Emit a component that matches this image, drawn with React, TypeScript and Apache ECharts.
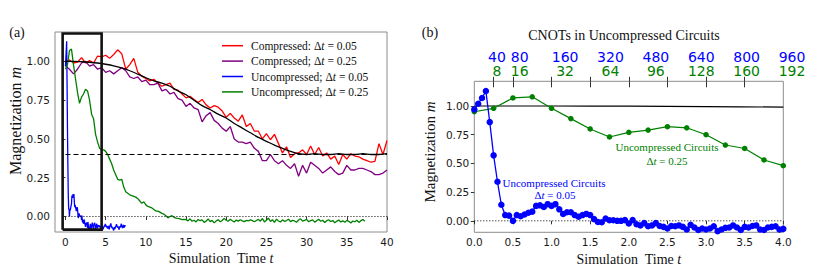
import React, { useEffect, useRef } from "react";
import * as echarts from "echarts";

// ---------- data ----------
const redStep = 0.5;
const compressed005 = [
  1.0, 1.01, 0.99, 0.995, 1.025, 0.99, 1.005, 0.99, 1.035, 1.03,
  1.04, 1.02, 1.045, 1.075, 1.05, 0.95, 0.98, 1.02, 0.93, 0.905,
  0.89, 0.875, 0.885, 0.86, 0.84, 0.85, 0.86, 0.82, 0.815, 0.79,
  0.765, 0.775, 0.755, 0.735, 0.755, 0.72, 0.7, 0.715, 0.705, 0.68,
  0.64, 0.665, 0.635, 0.615, 0.655, 0.58, 0.6, 0.55, 0.55, 0.5,
  0.535, 0.495, 0.53, 0.47, 0.41, 0.45, 0.38, 0.405, 0.41, 0.43,
  0.4, 0.455, 0.4, 0.445, 0.39, 0.41, 0.37, 0.39, 0.335, 0.4,
  0.37, 0.405, 0.39, 0.385, 0.37, 0.36, 0.35, 0.355, 0.47, 0.4,
  0.49,
];
const purpleStep = 0.5;
const compressed025 = [
  0.97, 0.95, 0.92, 0.95, 0.99, 1.0, 0.97, 0.98, 0.95, 0.96,
  0.93, 0.94, 0.92, 0.94, 0.96, 0.94, 0.9, 0.89, 0.9, 0.87,
  0.88, 0.85, 0.85, 0.86, 0.81, 0.82, 0.79, 0.8, 0.76, 0.75,
  0.71, 0.73, 0.7, 0.69, 0.61, 0.65, 0.67, 0.62, 0.6, 0.57,
  0.55, 0.58, 0.5, 0.48, 0.48, 0.47, 0.48, 0.44, 0.42, 0.36,
  0.36, 0.4, 0.36, 0.34, 0.36, 0.33, 0.31, 0.34, 0.26, 0.33,
  0.28, 0.35, 0.33, 0.31, 0.28, 0.3, 0.32, 0.29, 0.27, 0.28,
  0.33, 0.3, 0.3, 0.31, 0.31, 0.3, 0.29, 0.27, 0.27, 0.28,
  0.3,
];
const blueStep = 0.05;
const uncompressed005 = [
  0.97, 1.02, 1.07, 1.13, 0.86, 0.57, 0.34, 0.14, 0.05, 0.045,
  0.0, 0.05, 0.04, 0.055, 0.07, 0.08, 0.13, 0.135, 0.12, 0.145,
  0.13, 0.145, 0.1, 0.06, 0.075, 0.075, 0.05, 0.035, 0.05, 0.06,
  0.05, 0.015, -0.01, -0.012, 0.02, 0.005, 0.005, 0.0, 0.0, 0.006,
  -0.023, 0.006, -0.03, -0.04, -0.02, -0.047, -0.04, -0.02, -0.045, -0.053,
  -0.067, -0.045, -0.047, -0.04, -0.053, -0.076, -0.035, -0.058, -0.08, -0.067,
  -0.076, -0.067, -0.047, -0.09, -0.076, -0.061, -0.058, -0.04, -0.058, -0.08,
  -0.053, -0.058, -0.045, -0.04, -0.076, -0.08, -0.058, -0.053, -0.047, -0.076,
  -0.07, -0.062, -0.055, -0.068, -0.071, -0.058, -0.064, -0.079, -0.066, -0.072,
  -0.06, -0.083, -0.089, -0.074, -0.081, -0.066, -0.07, -0.057, -0.062, -0.048,
  -0.055, -0.067, -0.059, -0.072, -0.063, -0.078, -0.069, -0.061, -0.074, -0.083,
  -0.07, -0.058, -0.052, -0.045, -0.06, -0.071, -0.066, -0.079, -0.073, -0.085,
  -0.09, -0.077, -0.068, -0.081, -0.072, -0.064, -0.058, -0.049, -0.063, -0.07,
  -0.061, -0.074, -0.067, -0.085, -0.078, -0.069, -0.062, -0.071, -0.056, -0.047,
  -0.059, -0.068, -0.075, -0.063, -0.054, -0.066, -0.072, -0.061, -0.057, -0.064,
];
const greenStep = 0.25;
const uncompressed025 = [
  0.95, 0.98, 1.07, 1.08, 0.98, 0.89, 0.8, 0.73, 0.77, 0.79,
  0.82, 0.81, 0.75, 0.66, 0.63, 0.53, 0.48, 0.44, 0.43, 0.43,
  0.42, 0.4, 0.37, 0.34, 0.3, 0.27, 0.24, 0.235, 0.24, 0.19,
  0.16, 0.15, 0.14, 0.135, 0.13, 0.125, 0.115, 0.1, 0.085, 0.095,
  0.075, 0.065, 0.06, 0.055, 0.045, 0.035, 0.035, 0.028, 0.02, 0.015,
  0.005, -0.009, 0.0, 0.005, -0.005, -0.01, -0.012, -0.015, -0.02, -0.018,
  -0.02, -0.028, -0.015, -0.031, -0.024, -0.035, -0.019, -0.027, -0.022, -0.038,
  -0.03, -0.016, -0.033, -0.025, -0.041, -0.029, -0.02, -0.034, -0.026, -0.012,
  -0.024, -0.031, -0.018, -0.027, -0.036, -0.023, -0.03, -0.021, -0.028, -0.033,
  -0.025, -0.029, -0.022, -0.027, -0.034, -0.026, -0.019, -0.03, -0.013, -0.035,
  -0.024, -0.01, -0.032, -0.021, -0.038, -0.017, -0.029, -0.035, -0.022, -0.031,
  -0.026, -0.018, -0.033, -0.025, -0.029, -0.037, -0.023, -0.015, -0.03, -0.025,
  -0.019, -0.034, -0.027, -0.022, -0.036, -0.028, -0.018, -0.031, -0.024, -0.039,
  -0.027, -0.021, -0.033, -0.026, -0.04, -0.03, -0.023, -0.035, -0.028, -0.037,
  -0.025, -0.031, -0.042, -0.029, -0.034, -0.024, -0.038, -0.027, -0.02, -0.031,
];
const exactStep = 1;
const exactMagnetization = [
  1.0, 1.0, 0.998, 0.995, 0.99, 0.982, 0.972, 0.958, 0.94, 0.918,
  0.895, 0.875, 0.86, 0.84, 0.81, 0.785, 0.75, 0.715, 0.69, 0.66,
  0.635, 0.6, 0.57, 0.54, 0.51, 0.485, 0.46, 0.44, 0.42, 0.405,
  0.4, 0.405, 0.4, 0.4, 0.405, 0.4, 0.4, 0.405, 0.4, 0.4,
  0.405,
];
const steadyState = 0.4;
const zeroLevel = 0;

const leftXTicks = [0, 5, 10, 15, 20, 25, 30, 35, 40];
const yTicks = [0, 0.25, 0.5, 0.75, 1.0];
const rightXTicks = [0, 0.5, 1, 1.5, 2, 2.5, 3, 3.5, 4];
const topTicks = [0.25, 0.5, 1, 1.5, 2, 2.5, 3, 3.5];
const cnotBlue = [40, 80, 160, 320, 480, 640, 800, 960];
const cnotGreen = [8, 16, 32, 64, 96, 128, 160, 192];

const zoomBoxX = [-0.35, 4.5];
const zoomBoxY = [-0.085, 1.18];

const seriesNames = [
  "Compressed: Δt = 0.05",
  "Compressed; Δt = 0.25",
  "Uncompressed; Δt = 0.05",
  "Uncompressed; Δt = 0.25",
];

// ---------- helpers ----------
const pts = (vals: number[], step: number) =>
  vals.map((v, i) => [Math.round(i * step * 1000) / 1000, v]);

const SERIF = "'Liberation Serif', 'Times New Roman', serif";
const SANS = "'DejaVu Sans', sans-serif";
const RED = "#ff0000";
const PURPLE = "#800080";
const BLUE = "#0000ff";
const GREEN = "#008000";

export default function App() {
  const ref = useRef<HTMLDivElement>(null);

  useEffect(() => {
    document.body.style.margin = "0";
    if (!ref.current) return;
    const chart = echarts.init(ref.current, undefined, { renderer: "svg" });

    const tickLabel = {
      fontFamily: SANS,
      fontSize: 10.5,
      color: "#1a1a1a",
    };
    const tickStyle = { lineStyle: { color: "#333", width: 1 } };
    const nameStyle = {
      fontFamily: SERIF,
      fontSize: 14,
      color: "#111",
      rich: {
        a: { fontFamily: SERIF, fontSize: 14, color: "#111" },
        b: { fontFamily: SERIF, fontSize: 14, fontStyle: "italic", color: "#111" },
      },
    };

    const lineBase = {
      type: "line",
      symbol: "none",
      silent: true,
      animation: false,
      emphasis: { disabled: true },
    };

    const rightBlue = uncompressed005.slice(0, Math.round(4 / blueStep) + 1);
    const rightGreen = uncompressed025.slice(0, Math.round(4 / greenStep) + 1);
    const rightExact = exactMagnetization.slice(0, Math.round(4 / exactStep) + 1);

    const yLabel = (x: number, y: number, size: number) => ({
      type: "text",
      x,
      y,
      rotation: Math.PI / 2,
      style: {
        text: "Magnetization {i|m}",
        font: `${size}px ${SERIF}`,
        fill: "#111",
        align: "center",
        verticalAlign: "middle",
        rich: { i: { font: `italic ${size}px ${SERIF}`, fill: "#111" } },
      },
    });

    const option: any = {
      animation: false,
      grid: [
        { left: 55, top: 32, width: 332, height: 200, show: true, borderColor: "#8c8c8c", borderWidth: 1, backgroundColor: "transparent" },
        { left: 474.3, top: 81.3, width: 309, height: 151, show: true, borderColor: "#8c8c8c", borderWidth: 1, backgroundColor: "transparent" },
        { left: 474.3, top: 81.3, width: 326.8, height: 1, show: false },
      ],
      xAxis: [
        {
          gridIndex: 0, type: "value", min: -1.3, max: 40,
          axisLine: { show: false }, splitLine: { show: false },
          axisTick: { show: true, customValues: leftXTicks, length: 3.5, ...tickStyle },
          axisLabel: { customValues: leftXTicks, margin: 4, ...tickLabel },
          name: "{a|Simulation  Time }{b|t}", nameLocation: "middle", nameGap: 17,
          nameTextStyle: nameStyle,
        },
        {
          gridIndex: 1, type: "value", min: 0, max: 4,
          axisLine: { show: false }, splitLine: { show: false },
          axisTick: { show: true, customValues: rightXTicks, length: 3.5, ...tickStyle },
          axisLabel: { customValues: rightXTicks, margin: 4, formatter: (v: number) => v.toFixed(1), ...tickLabel },
          name: "{a|Simulation  Time }{b|t}", nameLocation: "middle", nameGap: 17,
          nameTextStyle: nameStyle,
        },
        {
          gridIndex: 1, type: "value", min: 0, max: 4, position: "top",
          axisLine: { show: false }, splitLine: { show: false },
          axisTick: { show: true, customValues: topTicks, length: 4.5, inside: false, ...tickStyle },
          axisLabel: { show: false },
        },
        {
          gridIndex: 1, type: "value", min: 0, max: 4, position: "top",
          axisLine: { show: false }, splitLine: { show: false },
          axisTick: { show: true, customValues: topTicks, length: 6, inside: true, ...tickStyle },
          axisLabel: { show: false },
        },
        {
          gridIndex: 2, type: "value", min: 0, max: 3.6, position: "top",
          axisLine: { show: false }, splitLine: { show: false }, axisTick: { show: false },
          axisLabel: {
            customValues: topTicks,
            margin: 3,
            formatter: (v: number) => {
              const i = topTicks.findIndex((t) => Math.abs(t - v) < 1e-6);
              return i < 0 ? "" : `{b|${cnotBlue[i]}}\n{g|${cnotGreen[i]}}`;
            },
            rich: {
              b: { fontFamily: SANS, fontSize: 14, color: BLUE, lineHeight: 14.5, align: "center" },
              g: { fontFamily: SANS, fontSize: 14, color: GREEN, lineHeight: 14.5, align: "center" },
            },
          },
        },
      ],
      yAxis: [
        {
          gridIndex: 0, type: "value", min: -0.1, max: 1.19,
          axisLine: { show: false }, splitLine: { show: false },
          axisTick: { show: true, customValues: yTicks, length: 3.5, ...tickStyle },
          axisLabel: { customValues: yTicks, margin: 5, formatter: (v: number) => v.toFixed(2), ...tickLabel },
        },
        {
          gridIndex: 1, type: "value", min: -0.1, max: 1.215,
          axisLine: { show: false }, splitLine: { show: false },
          axisTick: { show: true, customValues: yTicks, length: 3.5, ...tickStyle },
          axisLabel: { customValues: yTicks, margin: 5, formatter: (v: number) => v.toFixed(2), ...tickLabel },
        },
        { gridIndex: 2, type: "value", min: 0, max: 1, show: false },
      ],
      legend: {
        data: seriesNames,
        orient: "vertical",
        left: 222,
        top: 39.7,
        icon: "rect",
        itemWidth: 21,
        itemHeight: 1.5,
        itemGap: 3.4,
        padding: 0,
        selectedMode: false,
        formatter: (name: string) => name.replace("Δt", "Δ{i|t}"),
        textStyle: {
          fontFamily: SERIF,
          fontSize: 11.5,
          lineHeight: 12,
          color: "#111",
          padding: [0, 0, 0, 3],
          rich: { i: { fontFamily: SERIF, fontSize: 11.5, lineHeight: 12, fontStyle: "italic", color: "#111" } },
        },
      },
      series: [
        { ...lineBase, name: seriesNames[0], xAxisIndex: 0, yAxisIndex: 0, data: pts(compressed005, redStep), lineStyle: { color: RED, width: 1.3 }, itemStyle: { color: RED } },
        { ...lineBase, name: seriesNames[1], xAxisIndex: 0, yAxisIndex: 0, data: pts(compressed025, purpleStep), lineStyle: { color: PURPLE, width: 1.3 }, itemStyle: { color: PURPLE } },
        { ...lineBase, name: seriesNames[2], xAxisIndex: 0, yAxisIndex: 0, data: pts(uncompressed005, blueStep), lineStyle: { color: BLUE, width: 1.3 }, itemStyle: { color: BLUE } },
        { ...lineBase, name: seriesNames[3], xAxisIndex: 0, yAxisIndex: 0, data: pts(uncompressed025, greenStep), lineStyle: { color: GREEN, width: 1.3 }, itemStyle: { color: GREEN } },
        { ...lineBase, name: "exact-a", xAxisIndex: 0, yAxisIndex: 0, data: pts(exactMagnetization, exactStep), smooth: 0.3, lineStyle: { color: "#000", width: 1.3 } },
        { ...lineBase, name: "steady", xAxisIndex: 0, yAxisIndex: 0, data: [[0, steadyState], [40, steadyState]], lineStyle: { color: "#000", width: 1.2, type: [5, 3] } },
        { ...lineBase, name: "zero-a", xAxisIndex: 0, yAxisIndex: 0, data: [[0, zeroLevel], [40, zeroLevel]], lineStyle: { color: "#000", width: 1, type: [1, 2] } },
        {
          ...lineBase, name: "box", xAxisIndex: 0, yAxisIndex: 0,
          data: [[zoomBoxX[0], zoomBoxY[0]], [zoomBoxX[1], zoomBoxY[0]], [zoomBoxX[1], zoomBoxY[1]], [zoomBoxX[0], zoomBoxY[1]], [zoomBoxX[0], zoomBoxY[0]]],
          lineStyle: { color: "#111", width: 2.6, join: "miter" }, z: 5,
        },
        { ...lineBase, name: "zero-b", xAxisIndex: 1, yAxisIndex: 1, data: [[0, zeroLevel], [4, zeroLevel]], lineStyle: { color: "#000", width: 1, type: [1, 2] } },
        { ...lineBase, name: "exact-b", xAxisIndex: 1, yAxisIndex: 1, data: pts(rightExact, exactStep), smooth: 0.3, lineStyle: { color: "#000", width: 1.2 } },
        {
          ...lineBase, name: "green-b", xAxisIndex: 1, yAxisIndex: 1, data: pts(rightGreen, greenStep),
          symbol: "circle", symbolSize: 5.5, showSymbol: true,
          lineStyle: { color: GREEN, width: 1.2 }, itemStyle: { color: GREEN },
        },
        {
          ...lineBase, name: "blue-b", xAxisIndex: 1, yAxisIndex: 1, data: pts(rightBlue, blueStep),
          symbol: "circle", symbolSize: 6.5, showSymbol: true,
          lineStyle: { color: BLUE, width: 1.3 }, itemStyle: { color: BLUE },
        },
      ],
      graphic: [
        { type: "text", x: 17, y: 32, style: { text: "(a)", font: `14px ${SERIF}`, fill: "#111", align: "center", verticalAlign: "middle" } },
        { type: "text", x: 430, y: 32, style: { text: "(b)", font: `14px ${SERIF}`, fill: "#111", align: "center", verticalAlign: "middle" } },
        { type: "text", x: 624, y: 35, style: { text: "CNOTs in Uncompressed Circuits", font: `14px ${SERIF}`, fill: "#111", align: "center", verticalAlign: "middle" } },
        yLabel(15, 121, 16),
        yLabel(430, 152, 15),
        { type: "text", x: 667, y: 146.7, style: { text: "Uncompressed Circuits", font: `11px ${SERIF}`, fill: GREEN, align: "center", verticalAlign: "middle" } },
        { type: "text", x: 667, y: 160.5, style: { text: "Δ{i|t} = 0.25", font: `11px ${SERIF}`, fill: GREEN, align: "center", verticalAlign: "middle", rich: { i: { font: `italic 11px ${SERIF}`, fill: GREEN } } } },
        { type: "text", x: 554, y: 182.7, style: { text: "Uncompressed Circuits", font: `11px ${SERIF}`, fill: BLUE, align: "center", verticalAlign: "middle" } },
        { type: "text", x: 555, y: 195, style: { text: "Δ{i|t} = 0.05", font: `11px ${SERIF}`, fill: BLUE, align: "center", verticalAlign: "middle", rich: { i: { font: `italic 11px ${SERIF}`, fill: BLUE } } } },
      ],
    };

    chart.setOption(option);
    return () => chart.dispose();
  }, []);

  return <div ref={ref} style={{ width: 830, height: 275 }} />;
}
